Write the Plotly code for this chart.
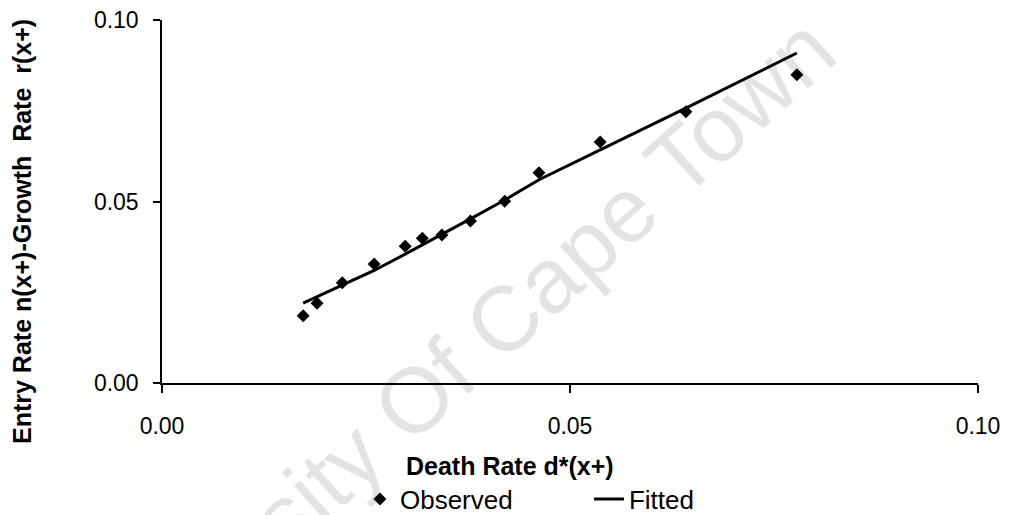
import plotly.graph_objects as go

# Data
death_rate = [0.0173, 0.0190, 0.0221, 0.0260, 0.0298, 0.0319, 0.0343,
              0.0378, 0.0420, 0.0462, 0.0537, 0.0642, 0.0778]
observed = [0.0185, 0.0220, 0.0276, 0.0328, 0.0377, 0.0399, 0.0408,
            0.0446, 0.0501, 0.0579, 0.0664, 0.0747, 0.0849]
fitted = [0.0220, 0.0238, 0.0269, 0.0310, 0.0355, 0.0380, 0.0410,
          0.0452, 0.0504, 0.0560, 0.0642, 0.0757, 0.0909]

x_ticks = [0.00, 0.05, 0.10]
y_ticks = [0.00, 0.05, 0.10]

x_title = "Death Rate d*(x+)"
y_title = "Entry Rate n(x+)-Growth  Rate  r(x+)"
watermark = "University Of Cape Town"

FONT = "Arial, Liberation Sans, sans-serif"

fig = go.Figure()
fig.add_trace(go.Scatter(
    x=death_rate, y=observed, mode="markers", name="Observed",
    marker=dict(symbol="diamond", size=10, color="black"),
))
fig.add_trace(go.Scatter(
    x=death_rate, y=fitted, mode="lines", name="Fitted",
    line=dict(color="black", width=3),
))

# The page body adds an 8px margin, so the figure is sized 1001x507
fig.update_layout(
    width=1001, height=507,
    margin=dict(l=154, r=31, t=12, b=132, autoexpand=False),
    paper_bgcolor="white", plot_bgcolor="white",
    font=dict(family=FONT, color="black", size=23),
    showlegend=True,
    legend=dict(
        orientation="h", xref="container", yref="container",
        x=0.3516, xanchor="left", y=0.0316, yanchor="middle",
        font=dict(size=26), entrywidth=184, bgcolor="rgba(0,0,0,0)",
    ),
    xaxis=dict(
        range=[0, 0.1], tickvals=x_ticks, tickformat=".2f",
        showline=True, linecolor="black", linewidth=1.5,
        ticks="outside", ticklen=8, tickwidth=1.5, tickcolor="black",
        showgrid=False, zeroline=False, ticklabelstandoff=14,
        ticklabeloverflow="allow",
    ),
    yaxis=dict(
        range=[0, 0.1], tickvals=y_ticks, tickformat=".2f",
        showline=True, linecolor="black", linewidth=1.5,
        ticks="outside", ticklen=7, tickwidth=1.5, tickcolor="black",
        showgrid=False, zeroline=False, ticklabelstandoff=10,
        ticklabeloverflow="allow",
    ),
    annotations=[
        dict(text="<b>" + x_title + "</b>", xref="paper", yref="paper",
             x=0.4265, y=-0.2287, xanchor="center", yanchor="middle",
             showarrow=False, font=dict(size=25)),
        dict(text="<b>" + y_title + "</b>", xref="paper", yref="paper",
             x=-0.1716, y=0.4187, xanchor="center", yanchor="middle",
             textangle=-90, showarrow=False, font=dict(size=25)),
        dict(text=watermark, xref="paper", yref="paper",
             x=0.3456, y=0.0275, xanchor="center", yanchor="middle",
             textangle=-42, showarrow=False,
             font=dict(size=92, color="rgba(0,0,0,0.11)")),
    ],
)

fig.write_html("out.html")
